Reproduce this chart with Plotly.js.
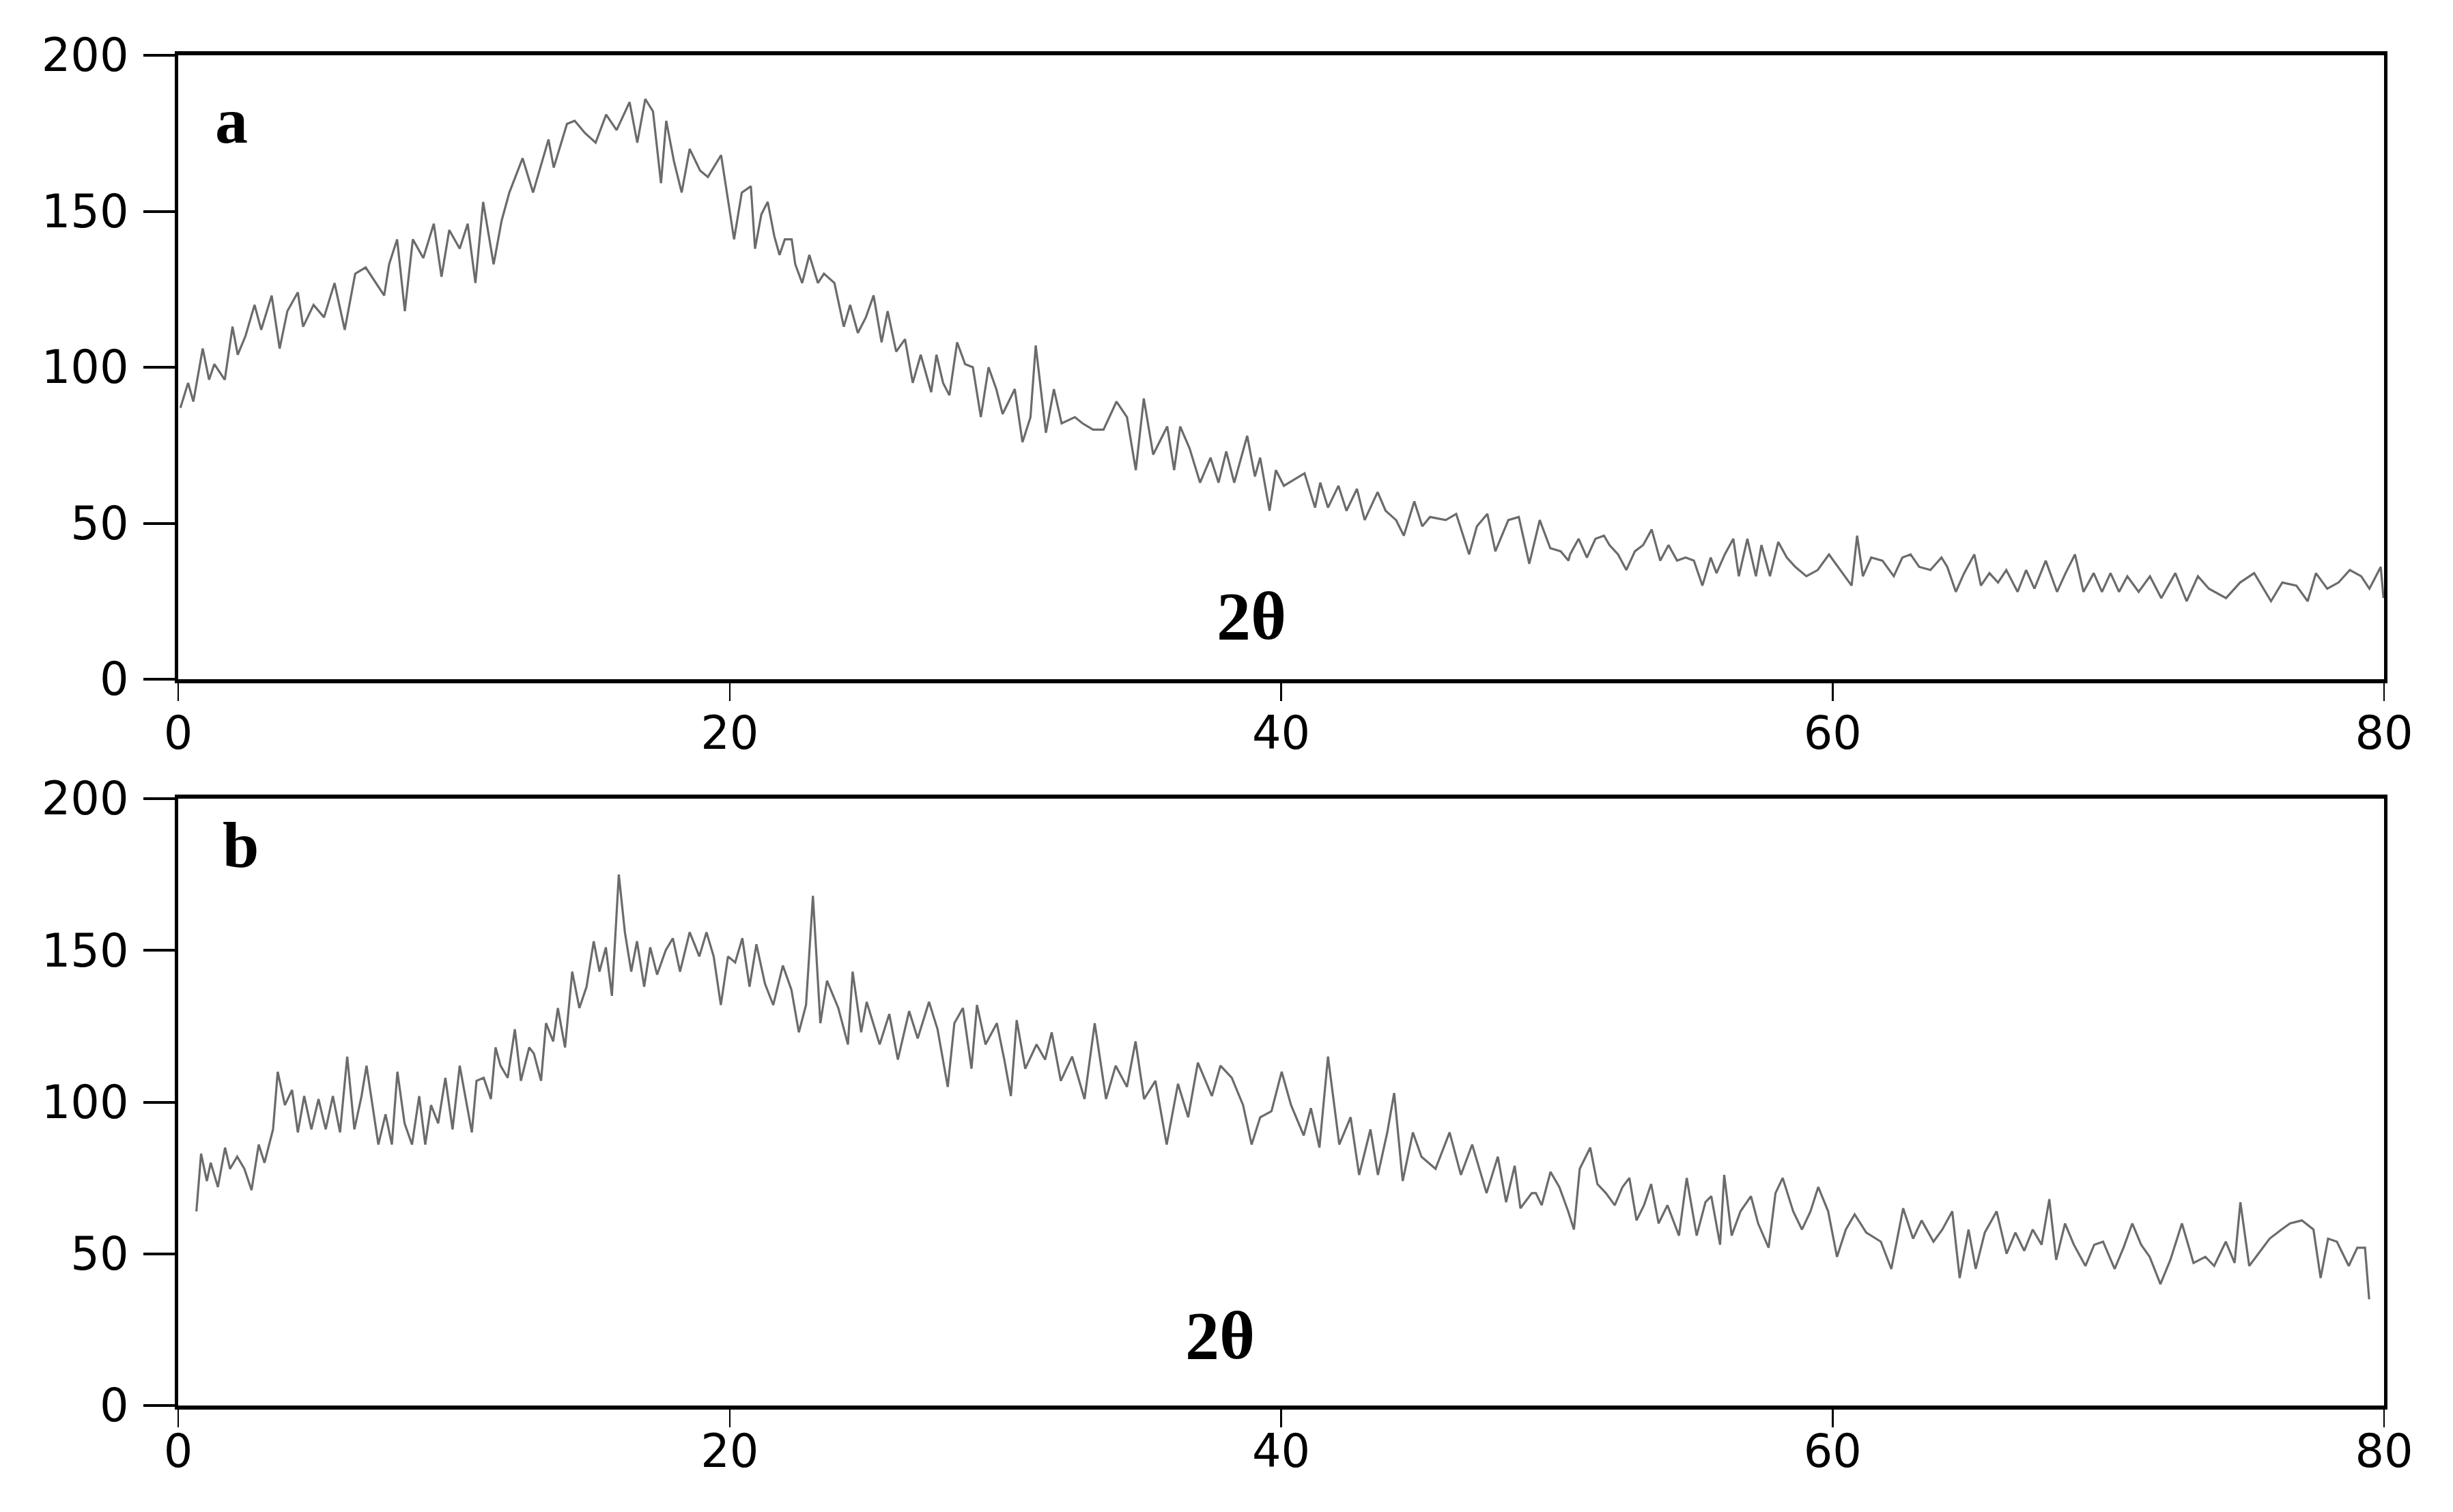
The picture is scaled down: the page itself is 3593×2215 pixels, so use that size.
<!DOCTYPE html>
<html>
<head>
<meta charset="utf-8">
<script src="https://cdn.plot.ly/plotly-3.0.1.min.js"></script>
<style>html,body{margin:0;padding:0;background:#fff;}#chart{width:3593px;height:2215px;}</style>
</head>
<body>
<div id="chart"></div>
<script>
// ---- data: panel (a) ----
const twoThetaA = [0.08,0.36,0.55,0.89,1.12,1.31,1.69,1.97,2.16,2.44,2.77,3.01,3.39,3.68,3.96,4.34,4.53,4.91,5.29,5.67,6.04,6.42,6.80,7.18,7.47,7.65,7.94,8.22,8.51,8.89,9.27,9.55,9.83,10.21,10.50,10.78,11.06,11.44,11.73,12.01,12.49,12.87,13.43,13.62,14.10,14.38,14.76,15.14,15.52,15.90,16.37,16.65,16.94,17.22,17.51,17.70,17.98,18.26,18.55,18.93,19.21,19.69,20.16,20.44,
20.77,20.92,21.15,21.38,21.62,21.81,22.0,22.25,22.38,22.63,22.89,23.2,23.42,23.8,24.14,24.37,24.65,24.94,25.22,25.51,25.73,26.04,26.36,26.64,26.93,27.31,27.5,27.74,27.97,28.25,28.54,28.82,29.11,29.39,29.67,29.9,30.34,30.62,30.91,31.1,31.47,31.76,32.04,32.52,32.8,33.18,33.56,34.03,34.41,34.73,35.02,35.36,35.87,36.12,36.34,36.68,37.06,37.44,37.73,38.01,38.3,38.77,39.05,39.24,39.58,39.81,40.1,40.47,40.85,41.23,41.42,41.7,42.08,42.37,42.75,43.03,43.5,43.79,44.17,44.45,44.83,45.12,45.4,45.97,46.35,46.82,47.1,47.48,47.77,48.24,48.62,49.0,49.38,49.76,50.14,50.42,
50.48,50.79,51.09,51.4,51.71,51.91,52.22,52.52,52.83,53.13,53.44,53.75,54.05,54.36,54.67,54.97,55.28,55.58,55.79,56.09,56.4,56.6,56.91,57.22,57.42,57.73,58.03,58.34,58.65,59.05,59.46,59.87,60.28,60.69,60.89,61.1,61.4,61.81,62.22,62.53,62.83,63.14,63.55,63.95,64.16,64.47,64.77,65.14,65.38,65.69,66.0,66.3,66.71,67.02,67.32,67.73,68.14,68.45,68.79,69.1,69.47,69.77,70.08,70.39,70.69,71.1,71.51,71.92,72.43,72.84,73.25,73.65,74.27,74.78,75.29,75.9,76.31,76.82,77.23,77.53,77.94,78.35,78.76,79.17,79.47,79.88,79.98];
const intensityA = [87,95,89,106,96,101,96,113,104,110,120,112,123,106,118,124,113,120,116,127,112,130,132,127,123,133,141,118,141,135,146,129,144,138,146,127,153,133,147,156,167,156,173,164,178,179,175,172,181,176,185,172,186,182,159,179,166,156,170,163,161,168,141,156,
158,138,149,153,142,136,141,141,133,127,136,127,130,127,113,120,111,116,123,108,118,105,109,95,104,92,104,95,91,108,101,100,84,100,93,85,93,76,84,107,79,93,82,84,82,80,80,89,84,67,90,72,81,67,81,74,63,71,63,73,63,78,65,71,54,67,62,64,66,55,63,55,62,54,61,51,60,54,51,46,57,49,52,51,53,40,49,53,41,51,52,37,51,42,41,38,
40,45,39,45,46,43,40,35,41,43,48,38,43,38,39,38,30,39,34,40,45,33,45,33,43,33,44,39,36,33,35,40,35,30,46,33,39,38,33,39,40,36,35,39,36,28,34,40,30,34,31,35,28,35,29,38,28,34,40,28,34,28,34,28,33,28,33,26,34,25,33,29,26,31,34,25,31,30,25,34,29,31,35,33,29,36,26];

// ---- data: panel (b) ----
const twoThetaB = [0.66,0.83,1.04,1.18,1.44,1.70,1.88,2.14,2.40,2.66,2.92,3.13,3.44,3.61,3.87,4.13,4.34,4.57,4.83,5.09,5.35,5.61,5.87,6.13,6.39,6.65,6.83,7.09,7.26,7.52,7.75,7.95,8.21,8.48,8.74,8.96,9.17,9.43,9.69,9.95,10.21,10.47,10.65,10.82,11.08,11.34,11.51,11.69,11.95,12.21,12.43,12.73,12.9,13.16,13.34,13.6,13.77,14.03,14.29,14.55,14.81,15.07,15.28,15.51,15.73,15.98,16.2,16.43,16.64,16.9,17.12,17.37,17.68,17.94,18.2,18.55,18.9,19.16,19.42,19.68,19.94,20.2,20.46,20.72,
20.97,21.28,21.58,21.93,22.24,22.51,22.77,23.02,23.29,23.53,23.94,24.29,24.46,24.77,24.97,25.44,25.79,26.1,26.51,26.82,27.23,27.54,27.91,28.15,28.46,28.77,28.97,29.28,29.69,29.96,30.2,30.41,30.72,31.13,31.44,31.68,32.01,32.42,32.87,33.24,33.65,34.0,34.41,34.72,35.03,35.44,35.85,36.26,36.63,36.98,37.49,37.8,38.21,38.62,38.93,39.24,39.65,40.02,40.36,40.82,41.08,41.39,41.7,42.11,42.52,42.83,43.24,43.51,43.85,44.1,44.41,44.78,45.09,45.6,46.11,46.52,46.93,47.45,47.86,48.16,48.47,48.68,49.09,
49.24,49.45,49.77,50.09,50.41,50.62,50.83,51.21,51.47,51.78,52.1,52.38,52.63,52.89,53.16,53.42,53.69,54.01,54.43,54.71,55.07,55.39,55.6,55.92,56.07,56.34,56.66,57.04,57.3,57.68,57.93,58.19,58.57,58.89,59.2,59.48,59.84,60.16,60.48,60.8,61.22,61.75,62.13,62.56,62.92,63.23,63.66,63.98,64.34,64.61,64.93,65.19,65.52,65.95,66.31,66.63,66.95,67.26,67.58,67.86,68.11,68.43,68.75,69.17,69.49,69.81,70.23,70.55,70.87,71.19,71.5,71.89,72.25,72.67,73.09,73.52,73.84,74.26,74.58,74.79,75.11,75.53,75.85,76.28,76.59,77.02,77.44,77.7,77.97,78.29,78.72,79.03,79.31,79.46];
const intensityB = [64,83,74,80,72,85,78,82,78,71,86,80,91,110,99,104,90,102,91,101,91,102,90,115,91,102,112,96,86,96,86,110,93,86,102,86,99,93,108,91,112,99,90,107,108,101,118,112,108,124,107,118,116,107,126,120,131,118,143,131,138,153,143,151,135,175,156,143,153,138,151,142,150,154,143,156,148,156,148,132,148,146,154,138,
152,139,132,145,137,123,132,168,126,140,131,119,143,123,133,119,129,114,130,121,133,124,105,126,131,111,132,119,126,114,102,127,111,119,114,123,107,115,101,126,101,112,105,120,101,107,86,106,95,113,102,112,108,99,86,95,97,110,99,89,98,85,115,86,95,76,91,76,90,103,74,90,82,78,90,76,86,70,82,67,79,65,70,
70,66,77,72,64,58,78,85,73,70,66,72,75,61,66,73,60,66,56,75,56,67,69,53,76,56,64,69,60,52,70,75,64,58,64,72,64,49,58,63,57,54,45,65,55,61,54,58,64,42,58,45,57,64,50,57,51,58,53,68,48,60,53,46,53,54,45,52,60,53,49,40,48,60,47,49,46,54,47,67,46,51,55,58,60,61,58,42,55,54,46,52,52,35];

// ---- tick labels / texts ----
const xTicks = [0, 20, 40, 60, 80];
const xTickText = ['0', '20', '40', '60', '80'];
const yTicks = [0, 50, 100, 150, 200];
const yTickText = ['0', '50', '100', '150', '200'];
const panelLabels = ['a', 'b'];
const xTitle = '2θ';

// ---- layout helpers (pixel -> paper) ----
const W = 3593, H = 2215;
const px = v => v / W;
const py = v => 1 - v / H;

const lineStyle = {color: '#6b6b6b', width: 3.2};
const tickFont = {family: 'DejaVu Sans, Verdana, sans-serif', size: 67, color: '#000'};
const labelFont = {family: 'Liberation Serif, Times New Roman, serif', size: 96, color: '#000'};

const traces = [
  {x: twoThetaA, y: intensityA, type: 'scatter', mode: 'lines', line: lineStyle, xaxis: 'x', yaxis: 'y', hoverinfo: 'skip'},
  {x: twoThetaB, y: intensityB, type: 'scatter', mode: 'lines', line: lineStyle, xaxis: 'x2', yaxis: 'y2', hoverinfo: 'skip'}
];

function xAxis(anchor, standoff) {
  return {
    anchor: anchor, domain: [px(261), px(3492)], range: [0, 80],
    tickmode: 'array', tickvals: xTicks, ticktext: xTickText,
    ticks: 'outside', ticklen: 26, tickwidth: 2.5, tickcolor: '#000',
    showline: true, linewidth: 6, linecolor: '#000', mirror: true,
    showgrid: false, zeroline: false, tickfont: tickFont, ticklabelstandoff: standoff
  };
}
function yAxis(anchor, top, bottom) {
  return {
    anchor: anchor, domain: [py(bottom), py(top)], range: [0, 200],
    tickmode: 'array', tickvals: yTicks, ticktext: yTickText,
    ticks: 'outside', ticklen: 46, tickwidth: 4, tickcolor: '#000',
    showline: true, linewidth: 5, linecolor: '#000', mirror: true,
    showgrid: false, zeroline: false, tickfont: tickFont, ticklabelstandoff: 8
  };
}

const layout = {
  width: W, height: H,
  margin: {l: 0, r: 0, t: 0, b: 0},
  paper_bgcolor: '#fff', plot_bgcolor: '#fff',
  showlegend: false,
  xaxis: xAxis('y', -10),
  yaxis: yAxis('x', 81, 995),
  xaxis2: xAxis('y2', -22),
  yaxis2: yAxis('x2', 1170, 2059),
  annotations: [
    {text: '<b>' + panelLabels[0] + '</b>', xref: 'paper', yref: 'paper', x: px(339), y: py(177), xanchor: 'center', yanchor: 'middle', showarrow: false, font: labelFont},
    {text: '<b>' + panelLabels[1] + '</b>', xref: 'paper', yref: 'paper', x: px(352), y: py(1238), xanchor: 'center', yanchor: 'middle', showarrow: false, font: labelFont},
    {text: '<b>' + xTitle + '</b>', xref: 'paper', yref: 'paper', x: px(1833), y: py(902), xanchor: 'center', yanchor: 'middle', showarrow: false, font: Object.assign({}, labelFont, {size: 100})},
    {text: '<b>' + xTitle + '</b>', xref: 'paper', yref: 'paper', x: px(1787), y: py(1956), xanchor: 'center', yanchor: 'middle', showarrow: false, font: Object.assign({}, labelFont, {size: 100})}
  ]
};

Plotly.newPlot('chart', traces, layout, {staticPlot: true, displayModeBar: false});
</script>
</body>
</html>
